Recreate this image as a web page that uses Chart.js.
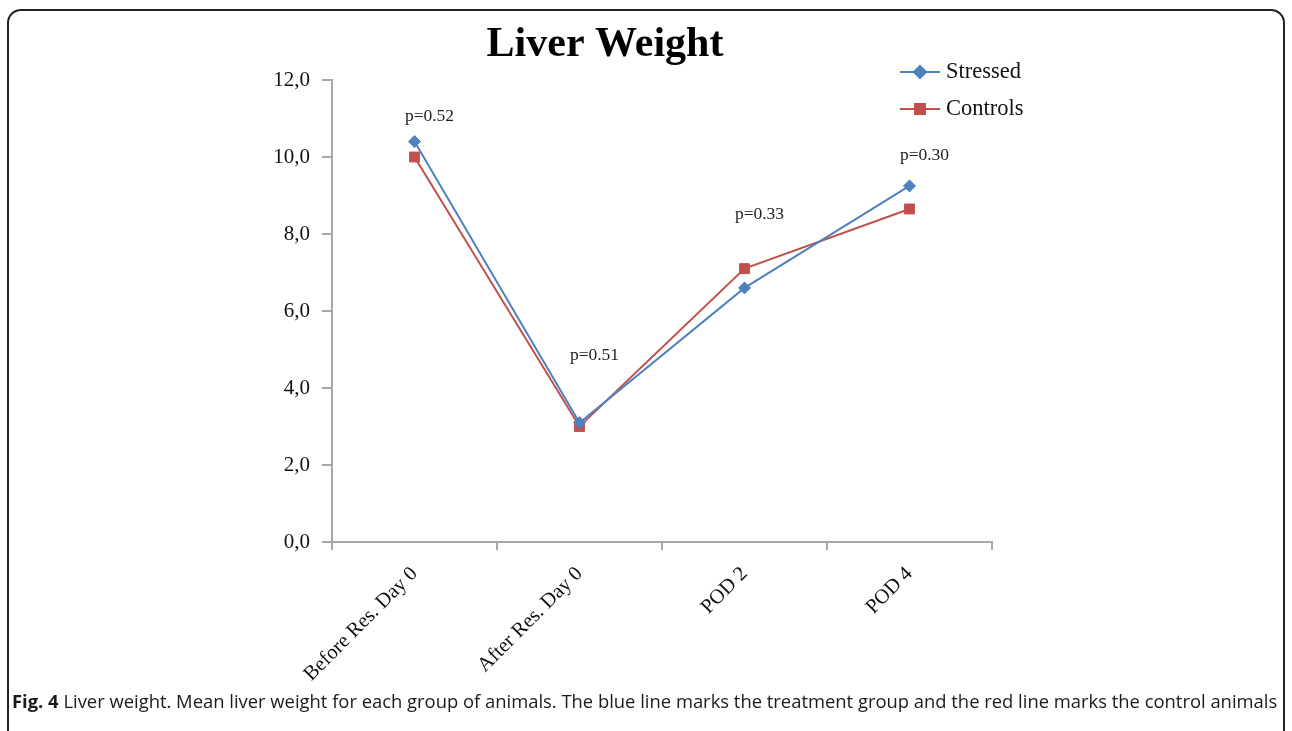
<!DOCTYPE html>
<html>
<head>
<meta charset="utf-8">
<script src="https://cdn.jsdelivr.net/npm/chart.js@4.4.1/dist/chart.umd.min.js"></script>
<style>
    html, body { margin:0; padding:0; background:#fff; width:1292px; height:731px; overflow:hidden; }
    #frame { position:absolute; left:7px; top:9px; width:1278px; height:780px; border:2px solid #222; border-radius:14px; box-sizing:border-box; }
    #wrap  { position:absolute; left:0; top:0; width:1292px; height:731px; }
    #caption { position:absolute; left:12px; top:688px; white-space:nowrap; font-family:"Open Sans", sans-serif; font-size:18.4px; color:#1a1a1a; }
    #caption b { font-weight:700; }
</style>
</head>
<body>
<div id="frame"></div>
<div id="wrap"><canvas id="graph" width="1292" height="731"></canvas></div>
<div id="caption"><b>Fig. 4</b> Liver weight. Mean liver weight for each group of animals. The blue line marks the treatment group and the red line marks the control animals</div>

<script>
var CHART   = null;

// data
var categories  = ["Before Res. Day 0", "After Res. Day 0", "POD 2", "POD 4"];
var stressed    = [10.4, 3.1, 6.6, 9.25];
var controls    = [10.0, 3.0, 7.1, 8.65];
var p_labels    = ["p=0.52", "p=0.51", "p=0.33", "p=0.30"];
var p_level     = [11.05, 4.85, 8.5, 10.05];   // value height where each p label sits
var y_ticks     = [0, 2, 4, 6, 8, 10, 12];

var BLUE    = "#4f81bd";
var RED     = "#c0504d";
var SERIF   = "'Liberation Serif', 'Times New Roman', serif";

// title, legend and p values drawn on top of the chart
var extras = {
    id: "extras",
    afterDraw: function(chart){
        let ctx  = chart.ctx;
        let area = chart.chartArea;
        let xs   = chart.scales.x;
        let ys   = chart.scales.y;

        ctx.save();
        ctx.fillStyle    = "#000";
        ctx.textAlign    = "center";
        ctx.textBaseline = "middle";
        ctx.font = "bold 42px " + SERIF;
        ctx.fillText("Liver Weight", 605, 45);

        // p values
        ctx.font = "17.5px " + SERIF;
        ctx.fillStyle = "#222";
        for (let i=0;i<p_labels.length;i++){
            ctx.fillText(p_labels[i], xs.getPixelForValue(i) + 15, ys.getPixelForValue(p_level[i]));
        }

        // legend
        let items = [
            {label: chart.data.datasets[0].label, color: BLUE, style: "rectRot"},
            {label: chart.data.datasets[1].label, color: RED,  style: "rect"}
        ];
        let lx = area.right - 92;
        for (let i=0;i<items.length;i++){
            let y = 72 + i*37;
            ctx.strokeStyle = items[i].color;
            ctx.lineWidth = 2;
            ctx.beginPath();
            ctx.moveTo(lx, y);
            ctx.lineTo(lx + 40, y);
            ctx.stroke();
            ctx.fillStyle = items[i].color;
            Chart.helpers.drawPoint(ctx, {pointStyle: items[i].style, radius: items[i].style == "rect" ? 7 : 6, rotation: 0, borderWidth: 1}, lx + 20, y);
            ctx.fillStyle = "#111";
            ctx.textAlign = "left";
            ctx.font = "22.5px " + SERIF;
            ctx.fillText(items[i].label, lx + 46, y);
        }
        ctx.restore();
    }
};

window.addEventListener("load", function(){

    let ctx = document.getElementById("graph");

    let data = {
        labels: categories,
        datasets: [
            {
                label: "Stressed",
                data: stressed,
                borderColor: BLUE,
                backgroundColor: BLUE,
                borderWidth: 2,
                pointStyle: "rectRot",
                pointRadius: 6,
                pointBorderWidth: 1
            },
            {
                label: "Controls",
                data: controls,
                borderColor: RED,
                backgroundColor: RED,
                borderWidth: 2,
                pointStyle: "rect",
                pointRadius: 7,
                pointBorderWidth: 1
            }
        ]
    };

    let options = {
        responsive: false,
        animation: false,
        layout: { padding: { left: 272, right: 300, top: 80, bottom: 39 } },
        plugins: {
            legend: { display: false },
            title: { display: false },
            tooltip: { enabled: false }
        },
        scales: {
            x: {
                offset: true,
                grid: { offset: true, drawOnChartArea: false, color: "#a8a8a8", tickLength: 8, lineWidth: 2 },
                border: { color: "#a8a8a8", width: 2 },
                ticks: {
                    autoSkip: false,
                    maxRotation: 45,
                    minRotation: 45,
                    padding: 12,
                    color: "#111",
                    font: { family: SERIF, size: 20.5 }
                },
                afterFit: function(scale){ scale.height = 150; }
            },
            y: {
                min: 0,
                max: 12,
                afterBuildTicks: function(scale){
                    scale.ticks = y_ticks.map(function(v){ return {value: v}; });
                },
                grid: { drawOnChartArea: false, color: "#a8a8a8", tickLength: 10, lineWidth: 2 },
                border: { color: "#a8a8a8", width: 2 },
                ticks: {
                    padding: 12,
                    color: "#111",
                    font: { family: SERIF, size: 21 },
                    callback: function(v){ return v.toFixed(1).replace(".", ","); }
                },
                afterFit: function(scale){ scale.width = 60; }
            }
        }
    };

    CHART = new Chart(ctx, {
        type: "line",
        data: data,
        options: options,
        plugins: [extras]
    });
});
</script>
</body>
</html>
